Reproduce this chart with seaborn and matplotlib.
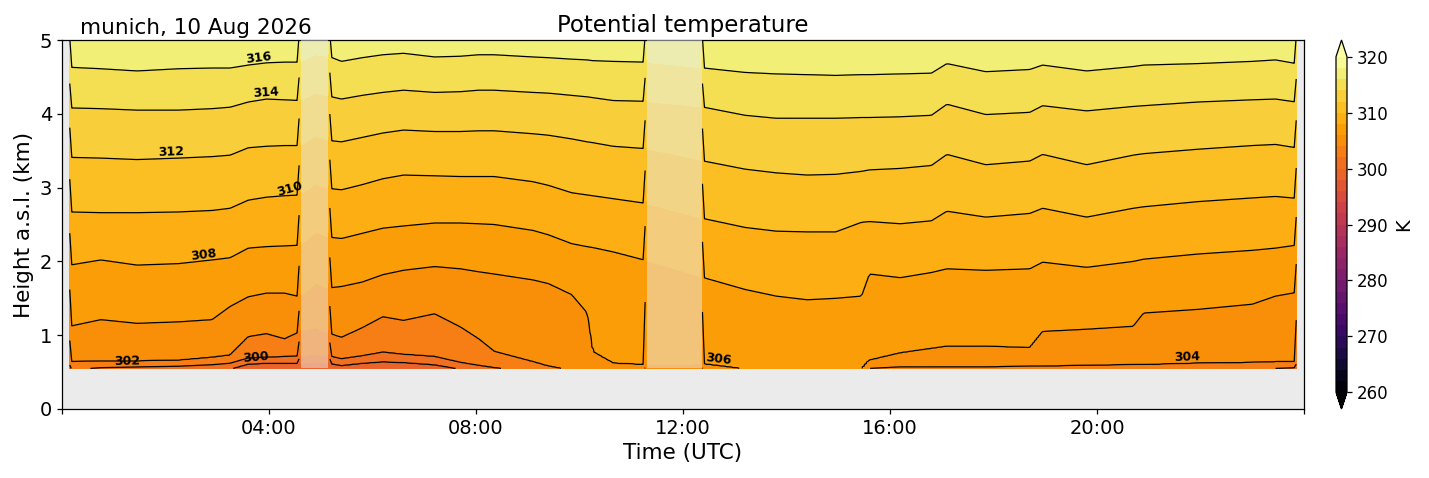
import numpy as np
import matplotlib
matplotlib.use("Agg")
import matplotlib.pyplot as plt
import matplotlib.transforms as mtransforms
from matplotlib.ticker import FuncFormatter
import seaborn as sns

# ---------------- data ----------------
# times (hours UTC) at which isoline heights were read
hours = [0.15, 0.75, 1.45, 2.25, 2.9, 3.25, 3.6, 3.95, 4.3, 4.6,
         4.9,
         5.15, 5.4, 5.8, 6.2, 6.6, 7.2, 7.7, 8.05, 8.35, 9.1, 9.4, 9.85, 10.15, 10.25, 10.65, 11.25,
         11.85,
         12.4, 13.2, 13.8, 14.4, 14.95, 15.45, 15.6, 16.2, 16.8, 17.1, 17.85, 18.7, 18.95,
         19.8, 20.7, 20.9, 21.95, 23.0, 23.45, 23.85]

# heights (km a.s.l.) of the potential temperature isolines
iso316 = [4.63, 4.61, 4.58, 4.61, 4.62, 4.62, 4.66, 4.69, 4.70, 4.70,
          4.80,
          4.78, 4.71, 4.76, 4.80, 4.82, 4.77, 4.78, 4.80, 4.80, 4.77, 4.76, 4.74, 4.73, 4.72, 4.71, 4.70,
          4.66,
          4.62, 4.56, 4.54, 4.53, 4.52, 4.53, 4.53, 4.54, 4.55, 4.68, 4.57, 4.60, 4.66,
          4.58, 4.64, 4.66, 4.68, 4.71, 4.73, 4.68]
iso314 = [4.08, 4.07, 4.05, 4.05, 4.07, 4.09, 4.16, 4.20, 4.19, 4.18,
          4.28,
          4.24, 4.20, 4.25, 4.29, 4.32, 4.29, 4.30, 4.32, 4.32, 4.29, 4.28, 4.25, 4.23, 4.22, 4.18, 4.17,
          4.13,
          4.09, 3.98, 3.94, 3.94, 3.94, 3.95, 3.95, 3.96, 3.98, 4.13, 3.99, 4.02, 4.11,
          4.04, 4.10, 4.11, 4.16, 4.19, 4.20, 4.16]
iso312 = [3.41, 3.40, 3.38, 3.40, 3.42, 3.44, 3.54, 3.56, 3.57, 3.57,
          3.70,
          3.64, 3.62, 3.68, 3.74, 3.78, 3.76, 3.76, 3.77, 3.77, 3.73, 3.71, 3.66, 3.62, 3.61, 3.56, 3.53,
          3.45,
          3.36, 3.25, 3.20, 3.17, 3.18, 3.22, 3.24, 3.26, 3.30, 3.45, 3.31, 3.36, 3.45,
          3.31, 3.44, 3.46, 3.52, 3.57, 3.585, 3.54]
iso310 = [2.67, 2.66, 2.66, 2.67, 2.69, 2.72, 2.83, 2.87, 2.89, 2.90,
          3.05,
          2.99, 2.97, 3.04, 3.12, 3.17, 3.16, 3.15, 3.15, 3.15, 3.08, 3.03, 2.93, 2.90, 2.89, 2.85, 2.79,
          2.68,
          2.58, 2.46, 2.41, 2.40, 2.40, 2.53, 2.54, 2.51, 2.55, 2.68, 2.60, 2.65, 2.72,
          2.60, 2.72, 2.74, 2.81, 2.86, 2.88, 2.855]
iso308 = [1.95, 2.02, 1.95, 1.97, 2.02, 2.05, 2.18, 2.20, 2.21, 2.22,
          2.40,
          2.33, 2.31, 2.38, 2.45, 2.48, 2.52, 2.52, 2.51, 2.50, 2.42, 2.36, 2.24, 2.20, 2.19, 2.13, 2.02,
          1.90,
          1.78, 1.62, 1.53, 1.48, 1.50, 1.53, 1.83, 1.78, 1.85, 1.90, 1.88, 1.90, 1.99,
          1.92, 2.00, 2.03, 2.10, 2.15, 2.18, 2.22]
iso306 = [1.12, 1.21, 1.16, 1.18, 1.21, 1.39, 1.52, 1.57, 1.57, 1.52,
          1.70,
          1.64, 1.66, 1.72, 1.82, 1.88, 1.93, 1.90, 1.86, 1.83, 1.75, 1.70, 1.55, 1.30, 0.78, 0.62, 0.60,
          0.60,
          0.61, 0.54, 0.53, 0.52, 0.52, 0.54, 0.66, 0.76, 0.82, 0.85, 0.85, 0.83, 1.05,
          1.08, 1.12, 1.30, 1.35, 1.42, 1.53, 1.58]
iso304 = [0.64, 0.65, 0.65, 0.66, 0.70, 0.73, 0.98, 1.02, 0.95, 1.05,
          1.10,
          1.03, 0.97, 1.10, 1.25, 1.20, 1.29, 1.11, 0.95, 0.78, 0.64, 0.58, 0.52, 0.50, 0.50, 0.50, 0.50,
          0.49,
          0.48, 0.46, 0.45, 0.45, 0.45, 0.50, 0.55, 0.57, 0.57, 0.57, 0.57, 0.58, 0.58,
          0.59, 0.60, 0.60, 0.62, 0.63, 0.64, 0.64]
iso302 = [0.53, 0.56, 0.57, 0.58, 0.60, 0.62, 0.69, 0.70, 0.71, 0.72,
          0.74,
          0.72, 0.68, 0.72, 0.77, 0.74, 0.71, 0.63, 0.59, 0.56, 0.50, 0.47, 0.44, 0.43, 0.43, 0.42, 0.42,
          0.42,
          0.42, 0.40, 0.40, 0.40, 0.40, 0.42, 0.44, 0.45, 0.46, 0.46, 0.47, 0.48, 0.48,
          0.49, 0.50, 0.50, 0.52, 0.53, 0.55, 0.56]
iso300 = [0.45, 0.46, 0.47, 0.48, 0.50, 0.54, 0.61, 0.62, 0.62, 0.62,
          0.64,
          0.62, 0.59, 0.62, 0.64, 0.63, 0.60, 0.54, 0.50, 0.47, 0.43, 0.41, 0.39, 0.38, 0.38, 0.37, 0.37,
          0.37,
          0.37, 0.35, 0.35, 0.35, 0.35, 0.36, 0.38, 0.39, 0.40, 0.40, 0.41, 0.42, 0.42,
          0.43, 0.44, 0.44, 0.45, 0.46, 0.47, 0.47]
iso298_km = 0.20      # below the lowest range gate
iso318_km = 5.30      # above the plotted range
iso_values = [298, 300, 302, 304, 306, 308, 310, 312, 314, 316, 318]

# instrument gaps (hours) and lowest valid gate (km)
gap_start = [4.62, 11.30]
gap_end = [5.14, 12.37]
lowest_gate_km = 0.55
top_km = 5.0
edge_bias_K = -1.2    # colder edge columns of each retrieval block

# label anchors (hour, km)
label_hours = [3.8, 3.95, 2.1, 4.4, 2.75, 1.25, 3.75, 12.7, 21.75]
label_kms = [4.69, 4.19, 3.39, 2.89, 1.97, 0.565, 0.615, 0.60, 0.615]

date_text = "munich, 10 Aug 2026"

# ---------------- build field ----------------
iso_rows = np.array([iso300, iso302, iso304, iso306, iso308, iso310, iso312, iso314, iso316])
t_grid = np.linspace(hours[0], hours[-1], 600)
z_grid = np.linspace(lowest_gate_km, top_km, 400)
H = np.array([np.interp(t_grid, hours, row) for row in iso_rows])
theta = np.empty((z_grid.size, t_grid.size))
for j in range(t_grid.size):
    zs = np.concatenate([[iso298_km], H[:, j], [iso318_km]])
    theta[:, j] = np.interp(z_grid, zs, iso_values)

seg_bounds = [(hours[0], gap_start[0]), (gap_end[0], gap_start[1]), (gap_end[1], hours[-1])]
for a, b in seg_bounds:
    idx = np.where((t_grid >= a - 1e-9) & (t_grid <= b + 1e-9))[0]
    theta[:, idx[0]] += edge_bias_K
    theta[:, idx[-1]] += edge_bias_K

in_gap = np.zeros(t_grid.size, bool)
for a, b in zip(gap_start, gap_end):
    in_gap |= (t_grid > a) & (t_grid < b)
theta_lines = np.ma.masked_where(np.broadcast_to(in_gap, theta.shape), theta)

# ---------------- plot ----------------
sns.set_theme(style="ticks", rc={
    "axes.facecolor": "#ebebeb", "axes.edgecolor": "black", "axes.linewidth": 0.9,
    "text.color": "black", "axes.labelcolor": "black",
    "xtick.color": "black", "ytick.color": "black",
    "xtick.major.size": 3.5, "ytick.major.size": 3.5,
    "xtick.major.width": 0.9, "ytick.major.width": 0.9,
})
plt.rcParams["font.family"] = ["DejaVu Sans"]

fig = plt.figure(figsize=(14.29, 4.78), dpi=100)
ax = fig.add_axes([62 / 1429, 69 / 478, 1242 / 1429, 369 / 478])
cax = fig.add_axes([1336 / 1429, 69 / 478, 11 / 1429, 369 / 478])

cmap = sns.color_palette("inferno", as_cmap=True)
T, Z = np.meshgrid(t_grid, z_grid)
fill_levels = np.arange(260, 321, 2)
cf = ax.contourf(T, Z, theta, levels=fill_levels, cmap=cmap, extend="both")
cs = ax.contour(T, Z, theta_lines, levels=np.arange(300, 317, 2), colors="black", linewidths=0.9)

for a, b in zip(gap_start, gap_end):
    ax.fill_between([a, b], lowest_gate_km, top_km, color="#ebebeb", alpha=0.5, lw=0, zorder=3)

labels = ax.clabel(cs, fmt="%d", fontsize=9, inline=False,
                   manual=list(zip(label_hours, label_kms)))
off = mtransforms.ScaledTranslation(0, 4.5 / 72, fig.dpi_scale_trans)
for t in labels:
    t.set_fontweight("bold")
    t.set_transform(t.get_transform() + off)
    t.set_zorder(5)

ax.set_xlim(0, 24)
ax.set_ylim(0, 5)
ax.set_xticks(np.arange(0, 25, 4))
ax.xaxis.set_major_formatter(FuncFormatter(lambda v, p: f"{int(round(v)):02d}:00" if 0 < v < 24 else ""))
ax.set_yticks(np.arange(0, 6, 1))
ax.tick_params(labelsize=14)
ax.set_xlabel("Time (UTC)", fontsize=15.5)
ax.set_ylabel("Height a.s.l. (km)", fontsize=15.5)
ax.set_title("Potential temperature", fontsize=16.5)
ax.text(0.0145, 1.016, date_text, transform=ax.transAxes, ha="left", va="baseline", fontsize=15.5)
for s in ax.spines.values():
    s.set_visible(True)

cbar = fig.colorbar(cf, cax=cax, ticks=np.arange(260, 321, 10))
cbar.ax.tick_params(labelsize=12)
cbar.set_label("K", fontsize=14)

fig.savefig("out.png", dpi=100)
